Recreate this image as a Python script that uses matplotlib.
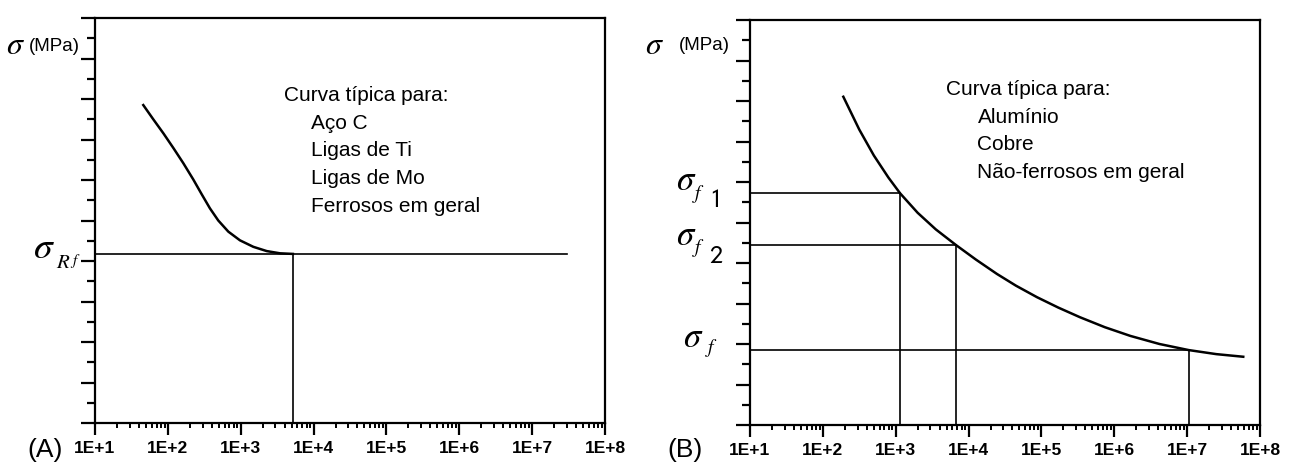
import numpy as np
import matplotlib
matplotlib.use("Agg")
import matplotlib.pyplot as plt
from matplotlib.ticker import FixedLocator, LogLocator, FuncFormatter, NullFormatter

plt.rcParams["font.family"] = ["Liberation Sans", "DejaVu Sans"]
plt.rcParams["mathtext.fontset"] = "stix"

# -------------------------------------------------------------------
# DATA
# -------------------------------------------------------------------

# (A) ferrous: curve flattens onto the fatigue limit
ferr_n = [46, 63, 87, 119, 163, 223, 291, 378, 492, 676, 977, 1490, 2275, 3460, 5200]
ferr_s = [15.70, 15.00, 14.30, 13.58, 12.83, 12.03, 11.30, 10.60, 10.00, 9.45,
          9.02, 8.70, 8.49, 8.38, 8.35]
sigma_rf = 8.35
n_rf = 5200
n_rf_end = 3e7

# (B) non-ferrous: curve keeps falling
nonf_n = [191, 316, 501, 794, 1150, 2000, 3550, 6700, 12600, 24500, 44700, 87100,
          1.7e5, 3.39e5, 7.41e5, 1.66e6, 4.17e6, 1.05e7, 2.51e7, 5.89e7]
nonf_s = [16.21, 14.59, 13.31, 12.22, 11.44, 10.48, 9.66, 8.89, 8.17, 7.46, 6.88, 6.31,
          5.80, 5.32, 4.83, 4.40, 4.00, 3.70, 3.50, 3.37]
sigma_f1, n_f1 = 11.44, 1150
sigma_f2, n_f2 = 8.89, 6700
sigma_f, n_f = 3.70, 1.05e7

notes_a = ["Aço C", "Ligas de Ti", "Ligas de Mo", "Ferrosos em geral"]
notes_b = ["Alumínio", "Cobre", "Não-ferrosos em geral"]

# -------------------------------------------------------------------
# PLOT
# -------------------------------------------------------------------

fig = plt.figure(figsize=(12.91, 4.62), dpi=100)
ax_a = fig.add_axes([95 / 1291, 39 / 462, 510 / 1291, 405 / 462])
ax_b = fig.add_axes([750 / 1291, 37 / 462, 510 / 1291, 405 / 462])

PX = 72 / 100  # points per pixel


def setup(ax):
    ax.set_xscale("log")
    ax.set_xlim(10, 1e8)
    ax.set_ylim(0, 20)
    for sp in ax.spines.values():
        sp.set_linewidth(1.6)
    ax.xaxis.set_major_locator(LogLocator(base=10, numticks=20))
    ax.xaxis.set_minor_locator(LogLocator(base=10, subs=np.arange(2, 10), numticks=20))
    ax.xaxis.set_major_formatter(FuncFormatter(lambda v, p: "1E+%d" % round(np.log10(v))))
    ax.xaxis.set_minor_formatter(NullFormatter())
    ax.yaxis.set_major_locator(FixedLocator(np.arange(0, 21, 2)))
    ax.yaxis.set_minor_locator(FixedLocator(np.arange(1, 20, 2)))
    ax.yaxis.set_major_formatter(NullFormatter())
    ax.tick_params(axis="x", which="major", direction="out", length=12 * PX, width=1.6,
                   pad=4, labelsize=12.5)
    ax.tick_params(axis="x", which="minor", direction="out", length=5 * PX, width=1.4)
    ax.tick_params(axis="y", which="major", direction="out", length=14 * PX, width=1.6)
    ax.tick_params(axis="y", which="minor", direction="out", length=8 * PX, width=1.6)
    for lab in ax.get_xticklabels():
        lab.set_fontweight("bold")


def label(ax, text, y, dx, dy, size):
    ax.annotate(text, xy=(0, y), xycoords=ax.get_yaxis_transform(),
                xytext=(dx * PX, dy * PX), textcoords="offset points",
                ha="right", va="center", fontsize=size, annotation_clip=False)


for ax in (ax_a, ax_b):
    setup(ax)

# panel A
ax_a.plot(ferr_n, ferr_s, color="black", linewidth=1.8)
ax_a.plot([10, n_rf_end], [sigma_rf, sigma_rf], color="black", linewidth=1.2)
ax_a.plot([n_rf, n_rf], [0, sigma_rf], color="black", linewidth=1.2)

ax_a.text(0.371, 0.795, "Curva típica para:", transform=ax_a.transAxes, fontsize=15)
for i, t in enumerate(notes_a):
    ax_a.text(0.4235, 0.727 - i * 0.0685, t, transform=ax_a.transAxes, fontsize=15)

label(ax_a, r"$\sigma$", 18.6, -70, 0, 23)
label(ax_a, "(MPa)", 18.6, -15, 0, 13.5)
label(ax_a, r"$\sigma$", sigma_rf, -40, 5.5, 27)
label(ax_a, r"$R$", sigma_rf, -24, -8.5, 15)
label(ax_a, r"$f$", sigma_rf, -14, -7, 11)

# panel B
ax_b.plot(nonf_n, nonf_s, color="black", linewidth=1.8)
for s, n in [(sigma_f1, n_f1), (sigma_f2, n_f2), (sigma_f, n_f)]:
    ax_b.plot([10, n], [s, s], color="black", linewidth=1.2)
    ax_b.plot([n, n], [0, s], color="black", linewidth=1.2)

ax_b.text(0.384, 0.815, "Curva típica para:", transform=ax_b.transAxes, fontsize=15)
for i, t in enumerate(notes_b):
    ax_b.text(0.446, 0.746 - i * 0.068, t, transform=ax_b.transAxes, fontsize=15)

label(ax_b, r"$\sigma$", 18.72, -86, 0, 23)
label(ax_b, "(MPa)", 18.72, -20, 0, 13.5)

label(ax_b, r"$\sigma$", sigma_f1, -54, 13.3, 25)
label(ax_b, r"$f$", sigma_f1, -45, -1, 14)
label(ax_b, r"$\mathsf{1}$", sigma_f1, -31, -6.5, 19)
label(ax_b, r"$\sigma$", sigma_f2, -54, 9.5, 25)
label(ax_b, r"$f$", sigma_f2, -45, -3.5, 14)
label(ax_b, r"$\mathsf{2}$", sigma_f2, -27, -11.5, 19)
label(ax_b, r"$\sigma$", sigma_f, -47, 12.5, 25)
label(ax_b, r"$f$", sigma_f, -32, 2.5, 14)

fig.text(27 / 1291, 1 - 438 / 462, "(A)", fontsize=19, va="top")
fig.text(667 / 1291, 1 - 438 / 462, "(B)", fontsize=19, va="top")

fig.savefig("out.png", dpi=100, facecolor="white")
